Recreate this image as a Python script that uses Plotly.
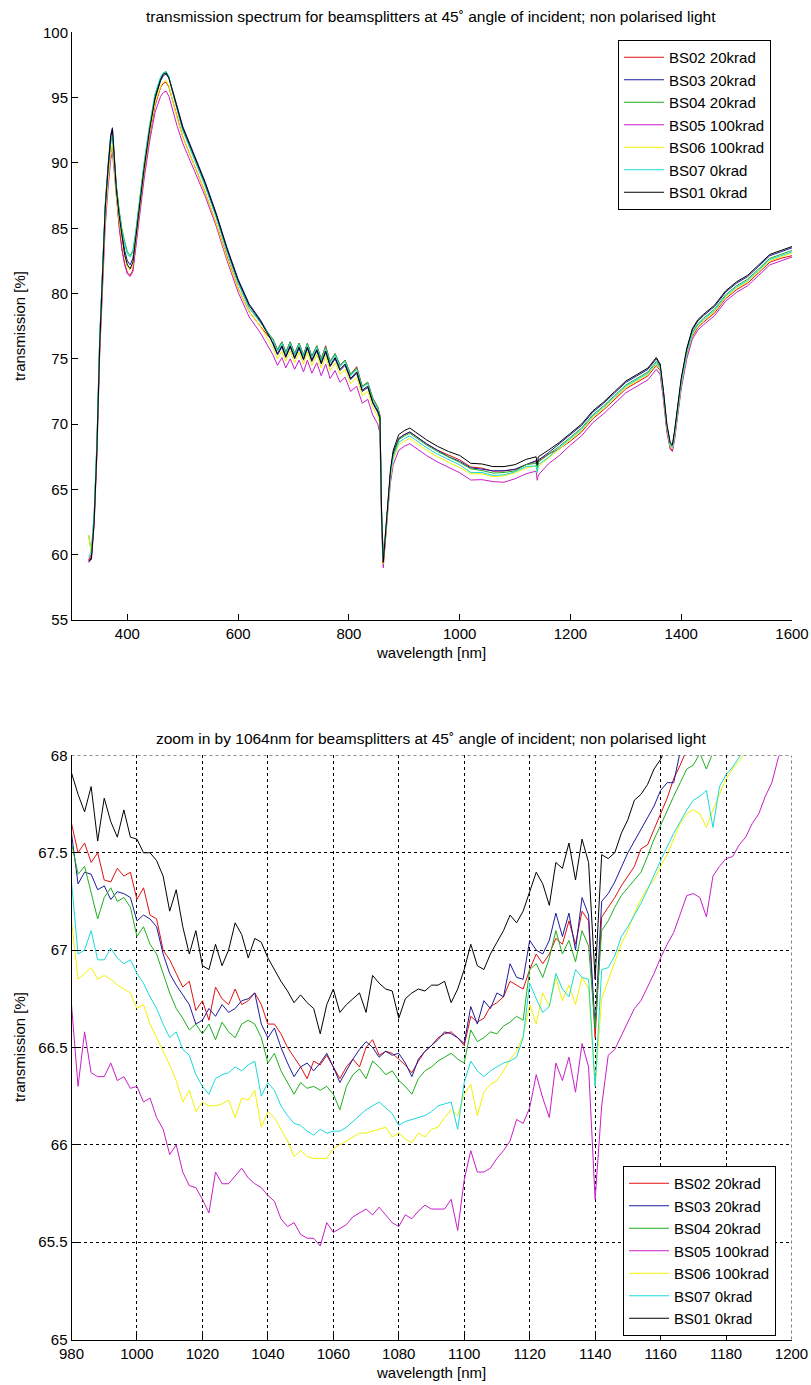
import plotly.graph_objects as go

# ---------------------------------------------------------------- full spectrum
WL_FULL = [330, 335, 340, 345, 350, 355, 360, 365, 370, 373,
           376, 380, 385, 390, 395, 400, 405, 410, 415, 420,
           430, 440, 450, 460, 465, 470, 475, 480, 490, 500,
           520, 540, 560, 580, 600, 620, 640, 655, 663, 671,
           679, 686, 694, 702, 710, 718, 725, 733, 742, 750,
           758, 766, 775, 784, 793, 803, 814, 824, 834, 843,
           852, 856, 859, 862, 866, 870, 875, 880, 890, 900,
           910, 920, 940, 960, 980, 1000, 1020, 1040, 1060, 1080,
           1100, 1120, 1138, 1140, 1142, 1160, 1180, 1200, 1220, 1240,
           1260, 1280, 1300, 1320, 1340, 1355, 1362, 1368, 1374, 1380,
           1384, 1388, 1394, 1400, 1410, 1420, 1430, 1440, 1460, 1480,
           1500, 1520, 1540, 1560, 1580, 1600]

BS02_FULL = [59.6, 60.0, 62.6, 68.0, 75.8, 81.5, 85.8, 88.6, 90.8, 91.3,
             89.6, 87.3, 85.2, 83.5, 82.3, 81.6, 81.4, 81.8, 83.5, 85.6,
             89.1, 92.0, 94.4, 95.8, 96.1, 96.2, 95.8, 95.0, 93.4, 92.0,
             89.9, 87.8, 85.4, 82.8, 80.4, 78.6, 77.5, 76.7, 76.5, 75.7,
             76.3, 75.5, 76.3, 75.4, 76.2, 75.3, 76.2, 75.2, 76.0, 75.0,
             76.0, 74.8, 75.4, 74.5, 74.9, 73.8, 74.4, 72.9, 73.2, 72.0,
             71.3, 70.7, 63.0, 59.3, 61.3, 63.8, 66.2, 67.7, 68.9, 69.2,
             69.4, 69.1, 68.5, 68.0, 67.65, 67.26, 66.72, 66.63, 66.4, 66.42,
             66.52, 66.9, 67.15, 66.5, 67.18, 67.7, 68.1, 68.7, 69.4, 70.4,
             71.1, 71.9, 72.7, 73.2, 73.7, 74.5, 74.1, 72.1, 69.6, 68.2,
             68.0, 69.0, 71.0, 72.9, 75.2, 76.7, 77.4, 77.8, 78.5, 79.6,
             80.3, 80.8, 81.6, 82.4, 82.7, 82.9]

BS03_FULL = [59.5, 59.8, 62.8, 68.4, 76.4, 82.3, 86.8, 89.8, 92.2, 92.7,
             90.8, 88.3, 86.3, 84.6, 83.3, 82.5, 82.2, 82.7, 84.2, 86.2,
             89.6, 92.5, 94.9, 96.3, 96.7, 96.8, 96.5, 95.8, 94.2, 92.8,
             90.7, 88.6, 86.2, 83.5, 81.1, 79.2, 78.0, 76.9, 76.1, 75.3,
             75.9, 75.1, 75.9, 75.0, 75.8, 74.9, 75.8, 74.8, 75.6, 74.6,
             75.5, 74.4, 75.0, 74.1, 74.5, 73.4, 73.9, 72.5, 72.8, 71.6,
             70.9, 70.4, 63.2, 59.5, 61.4, 63.9, 66.3, 67.8, 68.9, 69.2,
             69.4, 69.1, 68.5, 68.0, 67.5, 67.15, 66.65, 66.55, 66.42, 66.43,
             66.55, 66.9, 67.2, 66.6, 67.25, 67.8, 68.5, 69.2, 69.9, 70.9,
             71.6, 72.4, 73.2, 73.7, 74.2, 75.0, 74.5, 72.4, 69.9, 68.5,
             68.3, 69.4, 71.4, 73.4, 75.7, 77.2, 77.9, 78.3, 79.0, 80.1,
             80.8, 81.3, 82.1, 82.9, 83.2, 83.5]

BS04_FULL = [61.5, 60.2, 63.0, 68.5, 76.5, 82.2, 86.5, 89.4, 91.6, 92.1,
             90.3, 88.2, 86.4, 85.0, 84.0, 83.2, 82.9, 83.3, 84.7, 86.6,
             89.9, 92.8, 95.2, 96.5, 96.9, 97.0, 96.6, 95.7, 94.0, 92.5,
             90.4, 88.3, 85.9, 83.2, 80.8, 78.9, 77.8, 76.9, 76.5, 75.7,
             76.3, 75.5, 76.3, 75.4, 76.2, 75.3, 76.2, 75.2, 76.0, 75.0,
             75.9, 74.8, 75.4, 74.5, 74.9, 73.8, 74.3, 72.9, 73.2, 72.0,
             71.3, 70.6, 63.2, 59.6, 61.5, 63.9, 66.2, 67.6, 68.8, 69.1,
             69.3, 69.0, 68.4, 67.9, 67.5, 67.07, 66.58, 66.45, 66.25, 66.3,
             66.42, 66.9, 67.0, 66.5, 67.1, 67.65, 68.3, 69.0, 69.7, 70.7,
             71.4, 72.2, 73.0, 73.5, 74.0, 74.8, 74.4, 72.3, 69.8, 68.5,
             68.3, 69.3, 71.3, 73.2, 75.5, 77.0, 77.7, 78.1, 78.8, 79.9,
             80.6, 81.1, 81.9, 82.7, 83.0, 83.3]

BS05_FULL = [59.4, 59.6, 62.3, 67.6, 75.3, 80.9, 85.1, 88.0, 90.3, 90.8,
             89.3, 87.2, 85.2, 83.4, 82.2, 81.5, 81.3, 81.7, 83.3, 85.2,
             88.7, 91.6, 93.9, 95.1, 95.4, 95.5, 95.1, 94.3, 92.8, 91.5,
             89.5, 87.5, 85.2, 82.5, 80.1, 78.2, 77.0, 75.9, 75.3, 74.5,
             75.1, 74.3, 75.0, 74.2, 74.9, 74.0, 74.9, 73.9, 74.7, 73.7,
             74.6, 73.5, 74.1, 73.2, 73.6, 72.5, 72.9, 71.6, 71.9, 70.7,
             70.0, 69.3, 62.0, 59.0, 60.8, 63.2, 65.5, 66.9, 68.0, 68.3,
             68.5, 68.2, 67.6, 67.1, 66.7, 66.28, 65.72, 65.75, 65.6, 65.55,
             65.82, 66.2, 66.4, 65.7, 66.1, 66.95, 67.6, 68.4, 69.1, 70.1,
             70.8, 71.6, 72.4, 72.9, 73.4, 74.2, 73.8, 71.8, 69.4, 68.1,
             67.9, 68.8, 70.8, 72.7, 75.0, 76.5, 77.2, 77.6, 78.3, 79.4,
             80.1, 80.6, 81.4, 82.2, 82.5, 82.8]

BS06_FULL = [61.5, 60.1, 62.8, 68.2, 76.0, 81.6, 85.8, 88.6, 90.9, 91.4,
             89.7, 87.5, 85.6, 84.0, 82.8, 82.0, 81.8, 82.2, 83.8, 85.8,
             89.3, 92.2, 94.6, 95.9, 96.2, 96.3, 95.9, 95.0, 93.4, 92.0,
             89.9, 87.8, 85.4, 82.7, 80.4, 78.6, 77.5, 76.4, 75.8, 75.0,
             75.6, 74.8, 75.6, 74.7, 75.5, 74.6, 75.5, 74.5, 75.3, 74.3,
             75.2, 74.1, 74.7, 73.8, 74.2, 73.1, 73.6, 72.2, 72.5, 71.3,
             70.6, 70.0, 62.8, 59.3, 61.2, 63.6, 65.9, 67.3, 68.4, 68.7,
             68.9, 68.6, 68.0, 67.5, 67.1, 66.67, 66.2, 66.2, 65.97, 66.04,
             66.27, 66.65, 66.8, 66.3, 66.75, 67.4, 68.1, 68.8, 69.5, 70.5,
             71.2, 72.0, 72.8, 73.3, 73.8, 74.6, 74.2, 72.2, 69.7, 68.3,
             68.1, 69.1, 71.1, 73.0, 75.3, 76.8, 77.5, 77.9, 78.6, 79.7,
             80.4, 80.9, 81.7, 82.5, 82.8, 83.1]

BS07_FULL = [59.8, 60.3, 63.2, 68.7, 76.7, 82.4, 86.6, 89.4, 91.6, 92.1,
             90.3, 88.1, 86.2, 84.8, 83.8, 83.0, 82.8, 83.2, 84.6, 86.5,
             89.9, 92.9, 95.3, 96.6, 96.9, 97.0, 96.6, 95.7, 94.0, 92.5,
             90.4, 88.3, 85.9, 83.2, 80.8, 78.9, 77.8, 76.9, 76.4, 75.6,
             76.2, 75.4, 76.2, 75.3, 76.1, 75.2, 76.1, 75.1, 75.9, 74.9,
             75.8, 74.7, 75.3, 74.4, 74.8, 73.7, 74.2, 72.8, 73.1, 71.9,
             71.2, 70.5, 63.4, 59.7, 61.6, 63.9, 66.1, 67.5, 68.6, 68.9,
             69.1, 68.8, 68.2, 67.7, 67.3, 66.88, 66.3, 66.3, 66.07, 66.12,
             66.35, 66.75, 66.8, 66.3, 66.9, 67.45, 68.2, 68.9, 69.6, 70.6,
             71.3, 72.1, 72.9, 73.4, 73.9, 74.7, 74.3, 72.3, 69.9, 68.4,
             68.2, 69.2, 71.2, 73.1, 75.4, 76.9, 77.6, 78.0, 78.7, 79.8,
             80.5, 81.0, 81.8, 82.6, 82.9, 83.2]

BS01_FULL = [59.5, 59.7, 62.5, 68.0, 76.0, 82.0, 86.5, 89.5, 92.0, 92.6,
             90.5, 88.0, 86.0, 84.3, 83.0, 82.2, 81.9, 82.4, 84.0, 86.0,
             89.5, 92.5, 95.0, 96.4, 96.8, 96.9, 96.5, 95.7, 94.1, 92.7,
             90.6, 88.5, 86.1, 83.4, 81.0, 79.1, 77.9, 76.8, 76.2, 75.4,
             76.0, 75.2, 76.0, 75.1, 75.9, 75.0, 75.9, 74.9, 75.7, 74.7,
             75.6, 74.5, 75.1, 74.2, 74.6, 73.5, 74.0, 72.6, 72.9, 71.7,
             71.0, 70.5, 63.0, 59.4, 61.5, 64.0, 66.5, 68.0, 69.2, 69.5,
             69.7, 69.4, 68.8, 68.3, 67.9, 67.6, 67.0, 66.95, 66.75, 66.75,
             66.9, 67.3, 67.5, 66.9, 67.5, 68.0, 68.6, 69.3, 70.0, 71.0,
             71.7, 72.5, 73.3, 73.8, 74.3, 75.1, 74.6, 72.5, 70.0, 68.6,
             68.4, 69.5, 71.5, 73.5, 75.8, 77.3, 78.0, 78.4, 79.1, 80.2,
             80.9, 81.4, 82.2, 83.0, 83.3, 83.6]

# ---------------------------------------------------------------- 1064 nm zoom
WL_ZOOM = list(range(980, 1201, 2))

BS02_ZOOM = [67.65, 67.50, 67.55, 67.45, 67.50, 67.36, 67.35, 67.42, 67.38, 67.40,
             67.26, 67.32, 67.18, 67.16, 67.00, 66.95, 66.88, 66.81, 66.84, 66.69,
             66.74, 66.64, 66.81, 66.75, 66.72, 66.80, 66.72, 66.74, 66.78, 66.72,
             66.62, 66.62, 66.57, 66.50, 66.45, 66.40, 66.34, 66.43, 66.41, 66.46,
             66.40, 66.34, 66.40, 66.44, 66.40, 66.50, 66.54, 66.46, 66.48, 66.47,
             66.44, 66.41, 66.37, 66.43, 66.48, 66.51, 66.55, 66.57, 66.58, 66.55,
             66.51, 66.66, 66.63, 66.65, 66.71, 66.73, 66.76, 66.84, 66.82, 66.80,
             66.90, 66.98, 66.93, 66.98, 67.06, 67.03, 67.15, 67.03, 67.20, 67.15,
             66.55, 67.17, 67.22, 67.27, 67.33, 67.38, 67.43, 67.52, 67.54, 67.62,
             67.70, 67.78, 67.88, 67.95, 68.03, 68.10]

BS03_ZOOM = [67.60, 67.34, 67.40, 67.39, 67.31, 67.33, 67.26, 67.30, 67.29, 67.27,
             67.15, 67.18, 67.16, 67.12, 66.98, 66.88, 66.82, 66.77, 66.72, 66.62,
             66.64, 66.70, 66.66, 66.72, 66.68, 66.70, 66.74, 66.75, 66.78, 66.62,
             66.55, 66.60, 66.50, 66.42, 66.35, 66.40, 66.42, 66.38, 66.42, 66.47,
             66.40, 66.32, 66.38, 66.44, 66.49, 66.53, 66.50, 66.45, 66.48, 66.46,
             66.47, 66.42, 66.35, 66.44, 66.48, 66.51, 66.54, 66.58, 66.57, 66.55,
             66.52, 66.71, 66.62, 66.74, 66.70, 66.78, 66.76, 66.93, 66.86, 66.85,
             67.05, 67.00, 66.98, 67.05, 67.19, 67.07, 67.19, 67.00, 67.27, 67.18,
             66.60, 67.25, 67.29, 67.35, 67.43, 67.50, 67.56, 67.62, 67.68, 67.74,
             67.82, 67.86, 67.86, 68.02, 68.10]

BS04_ZOOM = [67.55, 67.39, 67.43, 67.30, 67.16, 67.27, 67.32, 67.25, 67.27, 67.22,
             67.07, 67.12, 67.03, 66.98, 66.88, 66.78, 66.70, 66.65, 66.59, 66.62,
             66.57, 66.62, 66.54, 66.63, 66.58, 66.55, 66.62, 66.64, 66.62, 66.55,
             66.42, 66.47, 66.38, 66.32, 66.26, 66.32, 66.29, 66.30, 66.28, 66.30,
             66.26, 66.18, 66.30, 66.36, 66.39, 66.34, 66.43, 66.40, 66.36, 66.38,
             66.33, 66.30, 66.26, 66.34, 66.38, 66.40, 66.43, 66.45, 66.47, 66.44,
             66.42, 66.59, 66.53, 66.55, 66.58, 66.57, 66.61, 66.63, 66.66, 66.64,
             66.90, 66.93, 66.86, 66.96, 67.10, 66.98, 67.05, 66.94, 67.10, 67.02,
             66.60, 67.10, 67.15, 67.22, 67.28, 67.32, 67.36, 67.40, 67.48, 67.57,
             67.64, 67.72, 67.79, 67.86, 67.93, 67.95, 68.01, 67.93, 68.02, 68.10]

BS05_ZOOM = [66.72, 66.30, 66.58, 66.37, 66.35, 66.35, 66.42, 66.33, 66.35, 66.29,
             66.30, 66.22, 66.24, 66.14, 66.08, 65.95, 66.00, 65.86, 65.79, 65.78,
             65.72, 65.65, 65.86, 65.80, 65.80, 65.84, 65.88, 65.83, 65.80, 65.78,
             65.74, 65.71, 65.62, 65.58, 65.60, 65.54, 65.52, 65.52, 65.48, 65.60,
             65.55, 65.57, 65.59, 65.63, 65.65, 65.67, 65.64, 65.68, 65.64, 65.60,
             65.58, 65.64, 65.62, 65.66, 65.69, 65.67, 65.67, 65.67, 65.72, 65.56,
             65.82, 65.97, 65.86, 65.86, 65.88, 65.93, 65.97, 66.02, 66.13, 66.11,
             66.19, 66.36, 66.24, 66.14, 66.42, 66.33, 66.45, 66.27, 66.52, 66.40,
             65.72, 66.20, 66.46, 66.49, 66.56, 66.63, 66.70, 66.74, 66.81, 66.88,
             66.96, 67.03, 67.09, 67.19, 67.28, 67.29, 67.27, 67.17, 67.38, 67.43,
             67.47, 67.48, 67.54, 67.58, 67.65, 67.70, 67.79, 67.86, 67.99, 68.06,
             68.12]

BS06_ZOOM = [67.15, 66.85, 66.88, 66.91, 66.85, 66.87, 66.85, 66.82, 66.80, 66.78,
             66.70, 66.72, 66.62, 66.55, 66.48, 66.41, 66.33, 66.22, 66.28, 66.17,
             66.22, 66.20, 66.20, 66.21, 66.23, 66.14, 66.24, 66.23, 66.28, 66.09,
             66.17, 66.14, 66.08, 66.02, 65.94, 65.97, 65.94, 65.93, 65.93, 65.93,
             65.98, 66.00, 66.02, 66.04, 66.06, 66.06, 66.07, 66.08, 66.09, 66.04,
             66.06, 66.03, 66.01, 66.06, 66.04, 66.08, 66.09, 66.14, 66.18, 66.15,
             66.26, 66.31, 66.15, 66.27, 66.31, 66.33, 66.38, 66.44, 66.48, 66.56,
             66.72, 66.62, 66.78, 66.71, 66.86, 66.74, 66.82, 66.72, 66.86, 66.80,
             66.30, 66.75, 66.85, 66.94, 67.03, 67.10, 67.19, 67.26, 67.32, 67.36,
             67.43, 67.49, 67.57, 67.65, 67.70, 67.72, 67.70, 67.63, 67.72, 67.80,
             67.88, 67.93, 67.97, 68.02, 68.08]

BS07_ZOOM = [67.35, 66.98, 67.00, 67.10, 66.95, 66.95, 67.01, 66.96, 66.93, 66.95,
             66.88, 66.83, 66.76, 66.70, 66.62, 66.55, 66.58, 66.49, 66.46, 66.36,
             66.30, 66.26, 66.34, 66.36, 66.37, 66.40, 66.38, 66.41, 66.43, 66.25,
             66.32, 66.28, 66.20, 66.15, 66.11, 66.10, 66.07, 66.05, 66.08, 66.06,
             66.07, 66.07, 66.09, 66.12, 66.15, 66.18, 66.20, 66.22, 66.19, 66.16,
             66.10, 66.12, 66.13, 66.14, 66.15, 66.17, 66.20, 66.21, 66.22, 66.08,
             66.32, 66.43, 66.38, 66.35, 66.38, 66.40, 66.42, 66.43, 66.45, 66.55,
             66.83, 66.75, 66.68, 66.71, 66.88, 66.80, 66.76, 66.90, 66.86, 66.85,
             66.30, 66.90, 66.91, 66.97, 67.07, 67.12, 67.18, 67.24, 67.31, 67.39,
             67.46, 67.53, 67.60, 67.66, 67.72, 67.77, 67.79, 67.82, 67.63, 67.84,
             67.90, 67.94, 67.99, 68.05, 68.10]

BS01_ZOOM = [67.91, 67.80, 67.71, 67.84, 67.56, 67.78, 67.66, 67.58, 67.72, 67.58,
             67.57, 67.50, 67.50, 67.46, 67.38, 67.20, 67.31, 67.12, 66.98, 67.10,
             66.92, 66.90, 67.03, 66.92, 67.00, 67.14, 67.08, 66.96, 67.06, 67.04,
             66.96, 66.90, 66.84, 66.79, 66.73, 66.77, 66.73, 66.70, 66.57, 66.72,
             66.80, 66.68, 66.72, 66.75, 66.78, 66.68, 66.87, 66.83, 66.80, 66.79,
             66.65, 66.75, 66.78, 66.80, 66.79, 66.82, 66.82, 66.84, 66.73, 66.80,
             66.90, 67.03, 66.92, 66.90, 66.98, 67.04, 67.10, 67.18, 67.14, 67.20,
             67.30, 67.40, 67.34, 67.23, 67.45, 67.42, 67.55, 67.36, 67.57, 67.45,
             66.85, 67.49, 67.47, 67.50, 67.60, 67.67, 67.77, 67.80, 67.85, 67.93,
             67.98, 68.05, 68.12]

LABELS = ["BS02 20krad", "BS03 20krad", "BS04 20krad", "BS05 100krad",
          "BS06 100krad", "BS07 0krad", "BS01 0krad"]
COLORS = ["#e01010", "#1c1c9c", "#1fae1f", "#c81ec8", "#f2f200", "#1ad8d8", "#000000"]

FULL = [BS02_FULL, BS03_FULL, BS04_FULL, BS05_FULL, BS06_FULL, BS07_FULL, BS01_FULL]
ZOOM = [BS02_ZOOM, BS03_ZOOM, BS04_ZOOM, BS05_ZOOM, BS06_ZOOM, BS07_ZOOM, BS01_ZOOM]

FONT = "Liberation Sans, Arial, Helvetica, sans-serif"
W, H = 811, 1385

fig = go.Figure()
for name, col, yv in zip(LABELS, COLORS, FULL):
    fig.add_trace(go.Scatter(x=WL_FULL, y=yv, mode="lines", name=name,
                             line=dict(color=col, width=1),
                             xaxis="x", yaxis="y", legend="legend"))
for name, col, yv in zip(LABELS, COLORS, ZOOM):
    fig.add_trace(go.Scatter(x=WL_ZOOM[:len(yv)], y=yv, mode="lines", name=name,
                             line=dict(color=col, width=1),
                             xaxis="x2", yaxis="y2", legend="legend2"))

axis_common = dict(showline=True, linecolor="black", linewidth=1, mirror=False,
                   ticks="inside", ticklen=6, tickcolor="black", tickwidth=1,
                   zeroline=False, automargin=False,
                   tickfont=dict(family=FONT, size=15, color="black"))


def px_x(p):
    return p / W


def px_y(p):
    return 1 - p / H


legend_common = dict(bgcolor="white", bordercolor="black", borderwidth=1,
                     font=dict(family=FONT, size=15, color="black"),
                     tracegroupgap=0, itemwidth=40)

X2_RANGE = [980, 1200]
Y2_RANGE = [65, 68]
grid_line = dict(color="black", width=1, dash="dot")

fig.update_layout(
    width=W, height=H, margin=dict(l=0, r=0, t=0, b=0),
    paper_bgcolor="white", plot_bgcolor="white", showlegend=True,
    xaxis=dict(domain=[px_x(72), px_x(792)], range=[300, 1600],
               tickvals=[400, 600, 800, 1000, 1200, 1400, 1600],
               showgrid=False, anchor="y", **axis_common),
    yaxis=dict(domain=[px_y(620), px_y(32.4)], range=[55, 100],
               tickvals=list(range(55, 101, 5)),
               showgrid=False, anchor="x", **axis_common),
    xaxis2=dict(domain=[px_x(71.5), px_x(791.5)], range=X2_RANGE,
                tickvals=list(range(980, 1201, 20)),
                showgrid=True, gridcolor="black", gridwidth=1, griddash="dot",
                anchor="y2", **axis_common),
    yaxis2=dict(domain=[px_y(1339.5), px_y(755.4)], range=Y2_RANGE,
                tickvals=[65, 65.5, 66, 66.5, 67, 67.5, 68],
                showgrid=True, gridcolor="black", gridwidth=1, griddash="dot",
                anchor="x2", **axis_common),
    legend=dict(x=px_x(618), y=px_y(40), xanchor="left", yanchor="top", **legend_common),
    legend2=dict(x=px_x(623), y=px_y(1336), xanchor="left", yanchor="bottom", **legend_common),
    shapes=[
        # dotted grid lines along the upper and right edges of the zoomed axes
        dict(type="line", xref="x2", yref="y2", x0=X2_RANGE[0], x1=X2_RANGE[1],
             y0=Y2_RANGE[1], y1=Y2_RANGE[1], line=grid_line, layer="below"),
        dict(type="line", xref="x2", yref="y2", x0=X2_RANGE[1], x1=X2_RANGE[1],
             y0=Y2_RANGE[0], y1=Y2_RANGE[1], line=grid_line, layer="below"),
    ],
    annotations=[
        dict(text="transmission spectrum for beamsplitters at 45˚ angle of incident; non polarised light",
             x=px_x(431), y=px_y(17), xref="paper", yref="paper", showarrow=False,
             xanchor="center", yanchor="middle", font=dict(family=FONT, size=15.5, color="black")),
        dict(text="wavelength [nm]", x=px_x(431), y=px_y(652), xref="paper", yref="paper",
             showarrow=False, xanchor="center", yanchor="middle",
             font=dict(family=FONT, size=15, color="black")),
        dict(text="transmission [%]", x=px_x(19), y=px_y(326), xref="paper", yref="paper",
             showarrow=False, xanchor="center", yanchor="middle", textangle=-90,
             font=dict(family=FONT, size=15, color="black")),
        dict(text="zoom in by 1064nm for beamsplitters at 45˚ angle of incident; non polarised light",
             x=px_x(431), y=px_y(738), xref="paper", yref="paper", showarrow=False,
             xanchor="center", yanchor="middle", font=dict(family=FONT, size=15.5, color="black")),
        dict(text="wavelength [nm]", x=px_x(431), y=px_y(1372), xref="paper", yref="paper",
             showarrow=False, xanchor="center", yanchor="middle",
             font=dict(family=FONT, size=15, color="black")),
        dict(text="transmission [%]", x=px_x(19), y=px_y(1047), xref="paper", yref="paper",
             showarrow=False, xanchor="center", yanchor="middle", textangle=-90,
             font=dict(family=FONT, size=15, color="black")),
    ],
)

fig.write_html("out.html")
